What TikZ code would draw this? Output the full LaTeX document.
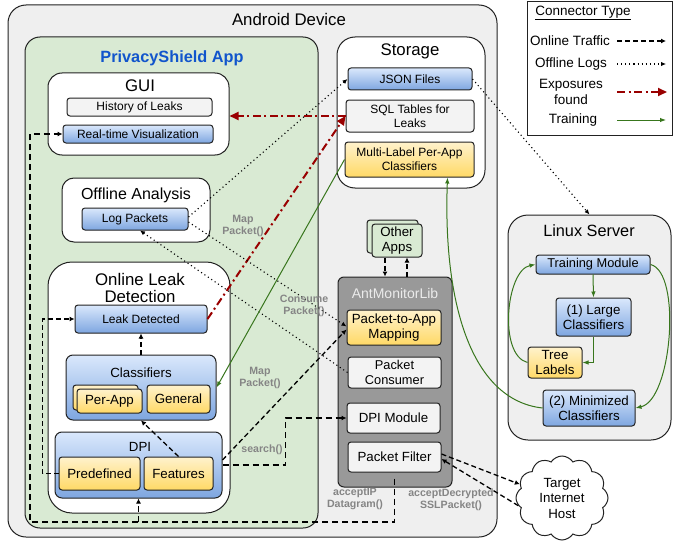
\documentclass[tikz,border=0pt]{standalone}
\usepackage{fontspec}
\setmainfont{Liberation Sans}
\usetikzlibrary{shapes.symbols,arrows.meta,calc}
\definecolor{devgray}{HTML}{EFEFEF}
\definecolor{appgreen}{HTML}{D9EAD3}
\definecolor{titleblue}{HTML}{1155CC}
\definecolor{bluetop}{HTML}{DAE8FC}
\definecolor{bluebot}{HTML}{7EA6E0}
\definecolor{yeltop}{HTML}{FFF2CC}
\definecolor{yelbot}{HTML}{FFD966}
\definecolor{exred}{HTML}{990000}
\definecolor{traingreen}{HTML}{38761D}
\definecolor{labgray}{HTML}{858585}
\definecolor{libgray}{HTML}{999999}
\definecolor{ltgray}{HTML}{F3F3F3}
\definecolor{edge}{HTML}{222222}
\newcommand\BX[7]{\node[#6, minimum width={#4-#2}, minimum height={#5-#3}] (#1) at ({(#2+#4)/2},{(#3+#5)/2}) {#7};}
\tikzset{
  container/.style={draw=edge, line width=1pt, rounded corners=#1, inner sep=0pt},
  box/.style={draw=edge, line width=1pt, rounded corners=3pt, inner sep=1pt, align=center, font=\fontsize{12}{14}\selectfont},
  bigbox/.style={font=\fontsize{13.3}{15.5}\selectfont},
  bluebox/.style={box, top color=bluetop, bottom color=bluebot},
  yelbox/.style={box, top color=yeltop, bottom color=yelbot},
  graybox/.style={box, fill=ltgray},
  whitebox/.style={box, fill=white},
  greenbox/.style={box, fill=appgreen},
  title/.style={font=\fontsize{16.8}{18.5}\selectfont, align=center, inner sep=0pt},
  subtitle/.style={font=\fontsize{13.3}{15}\selectfont, align=center, inner sep=0pt},
  lbl/.style={font=\fontsize{10.6}{12.5}\selectfont\bfseries, text=labgray, align=center, inner sep=0pt},
  legtext/.style={font=\fontsize{13.5}{16}\selectfont, align=center, inner sep=0pt},
  online/.style={draw=black, line width=1.3pt, dash pattern=on 5pt off 3pt, -{Latex[length=5pt,width=5pt]}},
  offline/.style={draw=black, line width=1.1pt, dash pattern=on 1.1pt off 3pt, -{Latex[length=5pt,width=4.5pt]}},
  exposure/.style={draw=exred, line width=2pt, dash pattern=on 8pt off 3.5pt on 2pt off 3.5pt, -{Triangle[length=9pt,width=8pt]}},
  training/.style={draw=traingreen, line width=1pt, -{Latex[length=6pt,width=4.5pt]}},
}
\begin{document}
\begin{tikzpicture}[x=1pt,y=-1pt]
\useasboundingbox (0,0) rectangle (683,543);
% containers
\BX{android}{8}{5}{497}{537}{container=18pt, fill=devgray}{}
\node[title] (tandroid) at (289,19) {Android Device};
\BX{app}{25}{37}{318}{528}{container=15pt, fill=appgreen}{}
\node[title, font=\fontsize{16.3}{18}\selectfont\bfseries, text=titleblue] (tapp) at (172,58) {PrivacyShield App};
% GUI
\BX{gui}{48}{73}{229}{155}{container=14pt, fill=white}{}
\node[title] (tgui) at (140,86) {GUI};
\BX{hist}{67}{98}{212}{116}{graybox}{History of Leaks}
\BX{rtv}{63}{125}{213}{143}{bluebox}{Real-time Visualization}
% Offline analysis
\BX{offl}{62}{178}{210}{242}{container=12pt, fill=white}{}
\node[title, font=\fontsize{16}{18}\selectfont] (toffl) at (136,195) {Offline Analysis};
\BX{logp}{82}{208}{188}{230}{bluebox}{Log Packets}
% Online leak detection
\BX{onl}{48}{262}{230}{513}{container=24pt, fill=white}{}
\node[title, font=\fontsize{16.8}{17.5}\selectfont] (tonl) at (140,288) {Online Leak\\Detection};
\BX{ld}{75}{305}{207}{333}{bluebox}{Leak Detected}
\BX{cls}{66}{355}{216}{420}{bluebox, rounded corners=7pt}{}
\node[subtitle] (tcls) at (141,373) {Classifiers};
\BX{perappb}{73}{385}{138}{410}{yelbox}{}
\BX{perapp}{77}{389}{142}{413}{yelbox, bigbox}{Per-App}
\BX{gen}{147}{385}{210}{413}{yelbox, bigbox}{General}
\BX{dpi}{55}{432}{222}{498}{bluebox, rounded corners=7pt}{}
\node[subtitle] (tdpi) at (140,447) {DPI};
\BX{pre}{59}{457}{140}{490}{yelbox, bigbox}{Predefined}
\BX{feat}{144}{457}{213}{490}{yelbox, bigbox}{Features}
% Storage
\BX{stor}{337}{37}{485}{188}{container=18pt, fill=white}{}
\node[title] (tstor) at (410,51) {Storage};
\BX{json}{348}{68}{472}{90}{bluebox}{JSON Files}
\BX{sql}{346}{100}{474}{132}{graybox}{SQL Tables for\\Leaks}
\BX{ml}{345}{142}{474}{177}{yelbox}{Multi-Label Per-App\\Classifiers}
% Other apps
\BX{oab}{367}{220}{418}{253}{greenbox}{}
\BX{oa}{372}{224}{422}{257}{greenbox, bigbox}{Other\\Apps}
% AntMonitorLib
\BX{aml}{338}{277}{452}{487}{container=6pt, fill=libgray}{}
\node[subtitle, text=white!92!black, font=\fontsize{14}{16}\selectfont] (taml) at (395,293) {AntMonitorLib};
\BX{p2a}{347}{310}{441}{345}{yelbox, bigbox}{Packet-to-App\\Mapping}
\BX{pc}{348}{357}{441}{388}{graybox, font=\fontsize{12.8}{15}\selectfont}{Packet\\Consumer}
\BX{dpim}{347}{403}{440}{433}{graybox, bigbox}{DPI Module}
\BX{pf}{348}{442}{441}{472}{graybox, bigbox}{Packet Filter}
% Linux server
\BX{lin}{508}{215}{671}{440}{container=20pt, fill=devgray}{}
\node[title, font=\fontsize{16.3}{18}\selectfont] (tlin) at (589,231) {Linux Server};
\BX{tm}{536}{255}{650}{274}{bluebox, font=\fontsize{12.8}{15}\selectfont}{Training Module}
\BX{large}{556}{298}{631}{336}{bluebox, bigbox}{(1) Large\\Classifiers}
\BX{tree}{528}{347}{582}{378}{yelbox, bigbox}{Tree\\Labels}
\BX{mini}{543}{390}{635}{426}{bluebox, bigbox}{(2) Minimized\\Classifiers}
% cloud
\node[cloud, cloud puffs=12, cloud puff arc=115, aspect=1.1, draw=edge, line width=1pt, fill=white, minimum width=92pt, minimum height=84pt, inner sep=0pt, align=center, font=\fontsize{13.3}{15.5}\selectfont] (host) at (562,498) {Target\\Internet\\Host};
% legend
\BX{leg}{527}{2}{672}{135}{draw=edge, line width=1pt, fill=white, inner sep=0pt}{}
\node[legtext] (tleg) at (583,13) {\underline{Connector Type}};
\node[legtext] (lon) at (570,41) {Online Traffic};
\node[legtext] (loff) at (571,64) {Offline Logs};
\node[legtext] (lexp) at (571,92) {Exposures\\found};
\node[legtext] (ltr) at (573,120) {Training};
\coordinate (a1) at (617,41); \coordinate (b1) at (666,41);
\coordinate (a2) at (617,64); \coordinate (b2) at (666,64);
\coordinate (a3) at (617,92); \coordinate (b3) at (667,92);
\coordinate (a4) at (617,120); \coordinate (b4) at (666,120);
\draw[online] (a1) -- (b1);
\draw[offline] (a2) -- (b2);
\draw[exposure] (a3) -- (b3);
\draw[training] (a4) -- (b4);
% ---- connectors ----
% exposures
\draw[exposure] (ld.east) -- (sql.west);
\draw[exposure] (sql.west) -- (sql.west -| gui.east);
% offline logs
\draw[offline] ([yshift=2pt]logp.east) -- (json.west);
\draw[offline] ([yshift=-3pt]logp.east) -- ([yshift=1pt]p2a.west);
\draw[offline] (pc.west) -- ([xshift=5pt]logp.south);
\draw[offline] (json.east) -- (lin.north);
\node[lbl] (lmap1) at (243,226) {Map\\Packet()};
\node[lbl] (lcons) at (304,306) {Consume\\Packet()};
% training
\draw[training] (ml.west) -- (cls.east);
\draw[training] (mini.west) .. controls (470,400) and (443,300) .. ([xshift=38pt]ml.south);
\draw[training] (tm.south) -- (large.north);
\draw[training] (large.south) |- (tree.east);
\draw[training] (tree.west) .. controls (498,355) and (506,270) .. (tm.west);
\draw[training] (tm.east) .. controls (682,272) and (672,400) .. (mini.east);
% online traffic
\draw[online] ([xshift=-12pt]oa.south) -- ([xshift=-12pt]oa.south |- aml.north);
\draw[online] ([xshift=10pt]oa.south |- aml.north) -- ([xshift=10pt]oa.south);
\draw[online] ([yshift=3pt]pf.east) -- (host.162);
\draw[online] (host.190) -- ([yshift=-2pt]pf.east);
\coordinate (loopbl) at (30,522);
\draw[online, line width=1.5pt, dash pattern=on 6pt off 4pt] ([yshift=-6pt]pf.south) |- (loopbl) |- (rtv.west);
\draw[online, line width=1.5pt, dash pattern=on 6pt off 4pt] (dpi.south |- loopbl) -- (dpi.south);
\draw[online] (pre.west) -- ++(-16,0) |- (ld.west);
\draw[online] (cls.north) -- (ld.south);
\draw[online] (feat.north) -- (cls.south);
\draw[online, line width=1.5pt, dash pattern=on 6pt off 4pt] (dpi.east) -- ++(63,0) |- (dpim.west);
\draw[online] ([yshift=5pt]dpi.east) -- ([yshift=-2pt]p2a.west);
\node[lbl] (lmap2) at (260,378) {Map\\Packet()};
\node[lbl] (lsearch) at (262,450) {search()};
\node[lbl] (lacc1) at (355,499) {acceptIP\\Datagram()};
\node[lbl] (lacc2) at (451,500) {acceptDecrypted\\SSLPacket()};
\end{tikzpicture}
\end{document}
